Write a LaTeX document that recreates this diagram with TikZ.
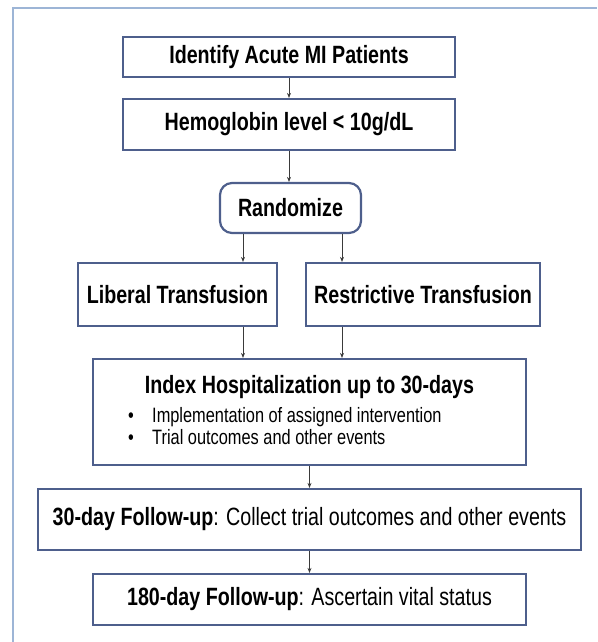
\documentclass[tikz,border=0pt]{standalone}
\usepackage{fontspec}
\setmainfont{Liberation Sans}[FakeStretch=0.787]
\usepackage{tikz}
\usepackage{xcolor}
\usetikzlibrary{arrows.meta,positioning}
\definecolor{boxline}{HTML}{4E5F8C}
\definecolor{frameline}{HTML}{9DB5D6}
\definecolor{arrline}{HTML}{3A3A3A}

\begin{document}
\begin{tikzpicture}[x=1pt,y=-1pt,
    box/.style={draw=boxline,line width=2.2pt,fill=white,inner sep=0pt,font=\fontsize{25}{29}\selectfont\bfseries},
    arr/.style={-{Stealth[length=5pt,width=4pt]},draw=arrline,line width=0.9pt}]
    \useasboundingbox (0,0) rectangle (597,642);
    % Frame
    \draw[frameline,line width=2pt] (13,642) -- (13,8) -- (597,8);

    % Screening
    \node[box,minimum width=332pt,minimum height=40pt] (ident) at (289,57) {Identify Acute MI Patients};
    \node[box,minimum width=332pt,minimum height=51pt] (hemo) at (289,124.5) {Hemoglobin level < 10g/dL};
    \node[box,rounded corners=12pt,minimum width=141pt,minimum height=50pt] (rand) at (290.5,208) {Randomize};

    % Arms
    \node[box,minimum width=199pt,minimum height=63pt] (lib) at (177.5,294.5) {Liberal Transfusion};
    \node[box,minimum width=234pt,minimum height=63pt] (restr) at (423,294.5) {Restrictive Transfusion};
    \coordinate (armL) at (243,0);
    \coordinate (armR) at (342,0);

    % Hospitalization
    \node[box,minimum width=433pt,minimum height=106pt] (index) at (309.5,412) {};
    \node[font=\fontsize{25}{29}\selectfont\bfseries] (indextitle) at (309.5,387) {Index Hospitalization up to 30-days};
    \node[anchor=west,inner sep=0pt,font=\fontsize{20.8}{24}\selectfont] (item1) at (128,417) {\makebox[24pt][l]{\textbullet}Implementation of assigned intervention};
    \node[anchor=west,inner sep=0pt,font=\fontsize{20.8}{24}\selectfont] (item2) at (128,437) {\makebox[24pt][l]{\textbullet}Trial outcomes and other events};

    % Follow-up
    \node[box,minimum width=543pt,minimum height=61pt] (fu30) at (309.5,519.5) {30-day Follow-up\mdseries: Collect trial outcomes and other events};
    \node[box,minimum width=433pt,minimum height=51pt] (fu180) at (309.5,599.5) {180-day Follow-up\mdseries: Ascertain vital status};

    % Arrows
    \draw[arr] (ident) -- (hemo);
    \draw[arr] (hemo.south) -- (hemo.south |- rand.north);
    \draw[arr] (rand.south -| armL) -- (lib.north -| armL);
    \draw[arr] (rand.south -| armR) -- (restr.north -| armR);
    \draw[arr] (lib.south -| armL) -- (index.north -| armL);
    \draw[arr] (restr.south -| armR) -- (index.north -| armR);
    \draw[arr] (index) -- (fu30);
    \draw[arr] (fu30) -- (fu180);
\end{tikzpicture}
\end{document}
